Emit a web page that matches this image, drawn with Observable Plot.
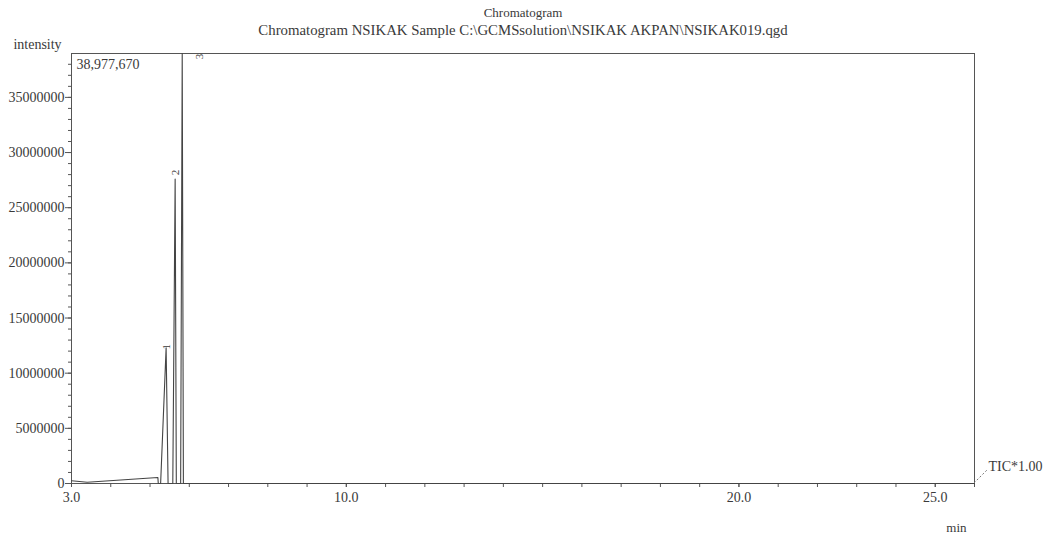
<!DOCTYPE html>
<html><head><meta charset="utf-8">
<script src="https://cdn.jsdelivr.net/npm/d3@7"></script>
<script src="https://cdn.jsdelivr.net/npm/@observablehq/plot@0.6"></script>
<style>body{margin:0;background:#fff;}</style>
</head><body><div id="chart"></div>
<script>
// Chromatogram trace (retention time in min, intensity)
const times       = [3.0,    3.4,    5.20,   5.21, 5.27, 5.41,     5.46, 5.58, 5.64,     5.67, 5.78, 5.82,     5.85, 26.0];
const intensities = [250000, 120000, 540000, 0,    0,    12300000, 0,    0,    27600000, 0,    0,    38977670, 0,    0];

// Peak labels
const peakNames  = ["1", "2", "3"];
const peakTimes  = [5.42, 5.66, 6.26];
const peakValues = [12400000, 28200000, 38700000];

const maxIntensity = 38977670;
const yMajorTicks = [0, 5000000, 10000000, 15000000, 20000000, 25000000, 30000000, 35000000];
const yMinorTicks = d3.range(0, 39000000, 1000000);
const xMajorTicks = [3.0, 10.0, 20.0, 25.0];
const xMinorTicks = d3.range(3, 27, 1);

const titleTop = "Chromatogram";
const titleMain = "Chromatogram NSIKAK Sample C:\\GCMSsolution\\NSIKAK AKPAN\\NSIKAK019.qgd";
const yLabel = "intensity";
const xLabel = "min";
const maxLabel = "38,977,670";
const ticLabel = "TIC*1.00";

const trace = times.map((t, i) => ({t, v: intensities[i]}));
const peaks = peakNames.map((n, i) => ({n, t: peakTimes[i], v: peakValues[i]}));

const ink = "#3a3a3a";
const chart = Plot.plot({
  width: 1045, height: 535,
  marginLeft: 71, marginRight: 71, marginTop: 53, marginBottom: 52,
  style: {fontFamily: "'Liberation Serif', 'DejaVu Serif', serif", fontSize: "14px", color: ink, background: "#fff"},
  x: {domain: [3, 26]},
  y: {domain: [0, maxIntensity]},
  marks: [
    Plot.frame({stroke: "#555"}),
    Plot.axisY(yMinorTicks, {tickSize: 3, tickFormat: () => "", label: null, stroke: "#555"}),
    Plot.axisY(yMajorTicks, {tickSize: 6, tickPadding: 1, tickFormat: d => String(d), label: null, stroke: "#555", fontSize: 14}),
    Plot.axisX(xMinorTicks, {tickSize: 4, tickFormat: () => "", label: null, stroke: "#555"}),
    Plot.axisX(xMajorTicks, {tickSize: 4, tickPadding: 5, tickFormat: d => d.toFixed(1), label: null, stroke: "#555", fontSize: 14}),
    Plot.lineY(trace, {x: "t", y: "v", stroke: "#444", strokeWidth: 1.1, curve: "linear"}),
    Plot.text(peaks, {x: "t", y: "v", text: "n", rotate: -90, fontSize: 11, fill: ink}),
    Plot.text([maxLabel], {frameAnchor: "top-left", lineAnchor: "middle", dx: 5, dy: 11, textAnchor: "start", fontSize: 14, fill: ink}),
    Plot.text([titleTop], {frameAnchor: "top", lineAnchor: "middle", dy: -41, fontSize: 13, fill: ink}),
    Plot.text([titleMain], {frameAnchor: "top", lineAnchor: "middle", dy: -23, fontSize: 14.8, fill: ink}),
    Plot.text([yLabel], {frameAnchor: "top-left", lineAnchor: "middle", textAnchor: "middle", dx: -34, dy: -9, fontSize: 14, fill: ink}),
    Plot.text([ticLabel], {frameAnchor: "bottom-right", lineAnchor: "middle", dx: 14, dy: -17, textAnchor: "start", fontSize: 14, fill: ink}),
    Plot.text([xLabel], {frameAnchor: "bottom-right", lineAnchor: "middle", dx: -8, dy: 44, fontSize: 13, fill: ink})
  ]
});
// dashed leader from frame corner to TIC label
d3.select(chart).append("line")
  .attr("x1", 1045 - 71).attr("y1", 535 - 52)
  .attr("x2", 1045 - 71 + 13).attr("y2", 535 - 52 - 13)
  .attr("stroke", "#777").attr("stroke-dasharray", "2,2");
document.getElementById("chart").appendChild(chart);
</script>
</body></html>
